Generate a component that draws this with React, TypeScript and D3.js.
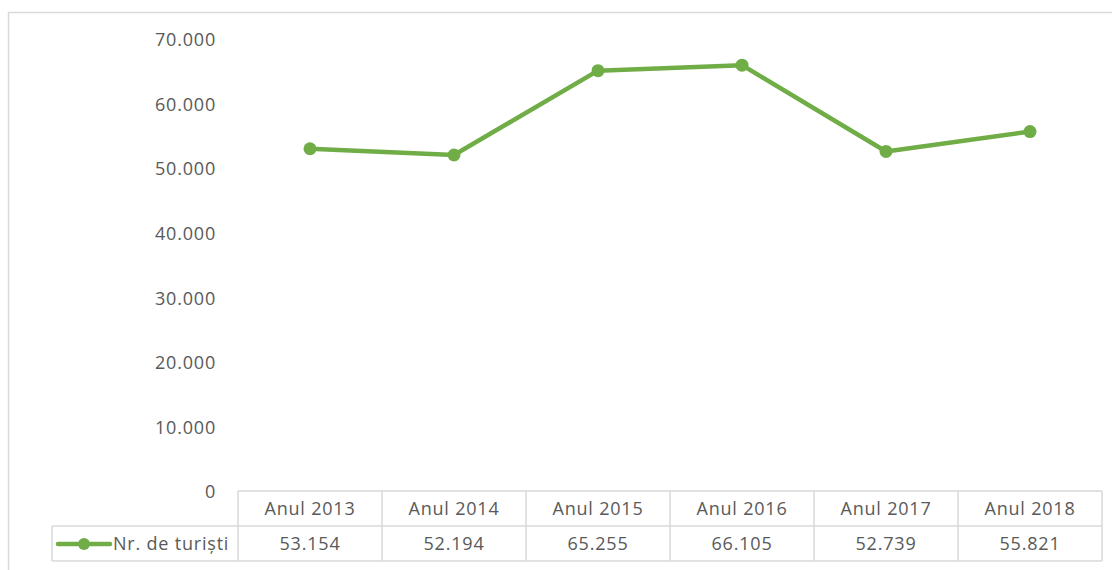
import React from "react";
import * as d3 from "d3";

const categories = ["Anul 2013", "Anul 2014", "Anul 2015", "Anul 2016", "Anul 2017", "Anul 2018"];
const values = [53154, 52194, 65255, 66105, 52739, 55821];
const valueLabels = ["53.154", "52.194", "65.255", "66.105", "52.739", "55.821"];
const yTicks = [0, 10000, 20000, 30000, 40000, 50000, 60000, 70000];
const seriesName = "Nr. de turiști";

const W = 1112;
const H = 570;
const FONT = "'Open Sans', 'Noto Sans', sans-serif";
const FS = 18;
const LS = 0.8;
const TEXT = "#595959";
const GREEN = "#70AD47";
const GRID = "#D9D9D9";

export default function App() {
  const x = d3.scaleBand<string>().domain(categories).range([238, 1102]);
  const y = d3.scaleLinear().domain([0, 70000]).range([492, 40]);
  const fmt = (v: number) => d3.format(",")(v).replace(/,/g, ".");
  const line = d3
    .line<number>()
    .x((_, i) => (x(categories[i]) as number) + x.bandwidth() / 2)
    .y((d) => y(d));

  const rowTop = 491;
  const rowMid = 526;
  const rowBot = 561;
  const legendLeft = 52;

  return (
    <svg width={W} height={H} style={{ position: "absolute", left: 0, top: 0, background: "#fff" }}>
      <rect x={8.5} y={12.5} width={W} height={H} fill="none" stroke={GRID} strokeWidth={1.5} />
      {yTicks.map((t) => (
        <text
          key={t}
          x={216}
          y={y(t)}
          dy="0.35em"
          textAnchor="end"
          fontFamily={FONT}
          fontSize={FS}
          letterSpacing={LS}
          fill={TEXT}
        >
          {fmt(t)}
        </text>
      ))}
      {/* data table */}
      <g stroke={GRID} strokeWidth={1.5} fill="none">
        <line x1={238} x2={1102} y1={rowTop} y2={rowTop} />
        <line x1={legendLeft} x2={1102} y1={rowMid} y2={rowMid} />
        <line x1={legendLeft} x2={1102} y1={rowBot} y2={rowBot} />
        <line x1={legendLeft} x2={legendLeft} y1={rowMid} y2={rowBot} />
        {categories.map((c) => (
          <line key={c} x1={x(c) as number} x2={x(c) as number} y1={rowTop} y2={rowBot} />
        ))}
        <line x1={1102} x2={1102} y1={rowTop} y2={rowBot} />
      </g>
      {categories.map((c, i) => {
        const cx = (x(c) as number) + x.bandwidth() / 2;
        return (
          <g key={c} fontFamily={FONT} fontSize={FS} letterSpacing={LS} fill={TEXT} textAnchor="middle">
            <text x={cx} y={(rowTop + rowMid) / 2} dy="0.35em">
              {c}
            </text>
            <text x={cx} y={(rowMid + rowBot) / 2} dy="0.35em">
              {valueLabels[i]}
            </text>
          </g>
        );
      })}
      {/* legend key */}
      <line x1={58} x2={110} y1={544} y2={544} stroke={GREEN} strokeWidth={4.5} strokeLinecap="round" />
      <circle cx={84} cy={544} r={6} fill={GREEN} />
      <text x={113} y={544} dy="0.35em" fontFamily={FONT} fontSize={FS} letterSpacing={LS} fill={TEXT}>
        {seriesName}
      </text>
      {/* series */}
      <path d={line(values) as string} fill="none" stroke={GREEN} strokeWidth={4.5} strokeLinejoin="round" strokeLinecap="round" />
      {values.map((v, i) => (
        <circle
          key={i}
          cx={(x(categories[i]) as number) + x.bandwidth() / 2}
          cy={y(v)}
          r={6.5}
          fill={GREEN}
        />
      ))}
    </svg>
  );
}
